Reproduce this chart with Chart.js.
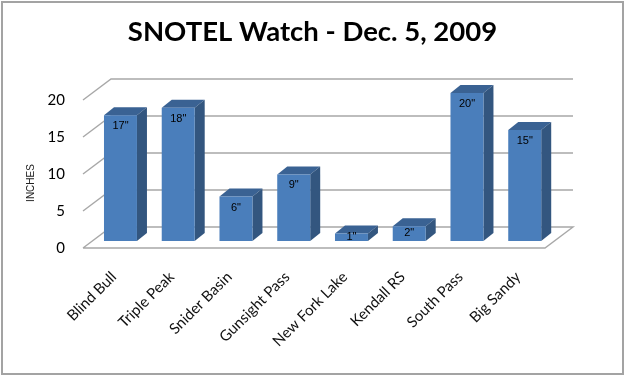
<!DOCTYPE html>
<html><head><meta charset="utf-8">
<style>html,body{margin:0;padding:0;background:#fff}#w{width:625px;height:376px;position:relative}</style>
<script src="https://cdn.jsdelivr.net/npm/chart.js@4"></script>
</head><body><div id="w"><canvas id="c" width="625" height="376"></canvas></div>
<script>
const categories=["Blind Bull","Triple Peak","Snider Basin","Gunsight Pass","New Fork Lake","Kendall RS","South Pass","Big Sandy"];
const inches=[17,18,6,9,1,2,20,15];
const tickStep=5;
const chartTitle="SNOTEL Watch - Dec. 5, 2009";
const axisTitle="INCHES";

const BAR_SHIFT={x:8.6,y:-7};
const DEPTH={x:10,y:-8};
const WALL={x:28,y:-21};
const GRID='#a8a8a8';

const scene={
  id:'scene',
  beforeDraw(ch){
    const c=ch.ctx,{left,right}=ch.chartArea,y=ch.scales.y;
    c.save();
    c.fillStyle='#fff';c.fillRect(0,0,ch.width,ch.height);
    c.strokeStyle='#a3a3a3';c.lineWidth=2;c.strokeRect(2,2,ch.width-4,ch.height-4);
    c.strokeStyle=GRID;c.lineWidth=1.4;
    y.ticks.forEach(t=>{
      const py=y.getPixelForValue(t.value);
      c.beginPath();
      c.moveTo(left,py);c.lineTo(left+WALL.x,py+WALL.y);c.lineTo(right+WALL.x,py+WALL.y);
      if(t.value===0){c.lineTo(right,py);c.lineTo(left,py);}
      c.stroke();
    });
    c.restore();
  },
  beforeDatasetsDraw(ch){
    const c=ch.ctx;
    c.save();
    c.translate(BAR_SHIFT.x,BAR_SHIFT.y);
    ch.getDatasetMeta(0).data.forEach(b=>{
      const l=b.x-b.width/2,r=b.x+b.width/2,t=b.y,base=b.base;
      c.fillStyle='#3a6293';
      c.beginPath();c.moveTo(l,t);c.lineTo(l+DEPTH.x,t+DEPTH.y);c.lineTo(r+DEPTH.x,t+DEPTH.y);c.lineTo(r,t);c.closePath();c.fill();
      c.fillStyle='#33567f';
      c.beginPath();c.moveTo(r,t);c.lineTo(r+DEPTH.x,t+DEPTH.y);c.lineTo(r+DEPTH.x,base+DEPTH.y);c.lineTo(r,base);c.closePath();c.fill();
    });
  },
  afterDatasetsDraw(ch){
    const c=ch.ctx;
    c.fillStyle='#000';c.font='11px "Liberation Sans"';c.textAlign='center';c.textBaseline='middle';
    ch.getDatasetMeta(0).data.forEach((b,i)=>{
      const h=b.base-b.y;
      c.fillText(inches[i]+'"',b.x,b.y+Math.min(11,h*0.45));
    });
    c.restore();
  },
  afterDraw(ch){
    const c=ch.ctx;
    c.save();
    c.translate(31,183);c.rotate(-Math.PI/2);
    c.fillStyle='#222';c.font='10px "Liberation Sans"';c.textAlign='center';c.textBaseline='middle';
    c.fillText(axisTitle,0,0);
    c.restore();
  }
};

new Chart(document.getElementById('c'),{
  type:'bar',
  data:{labels:categories,datasets:[{data:inches,backgroundColor:'#4a7ebb',borderWidth:0,barPercentage:0.571,categoryPercentage:1}]},
  plugins:[scene],
  options:{
    responsive:false,animation:false,
    layout:{padding:0},
    plugins:{
      legend:{display:false},tooltip:{enabled:false},
      title:{display:true,text:chartTitle,color:'#000',font:{family:'Lato',size:27.5,weight:'bold'},padding:{top:16,bottom:51}}
    },
    scales:{
      x:{
        grid:{display:false},border:{display:false},
        afterFit(s){s.height=128;},
        ticks:{color:'#111',font:{family:'Lato',size:15},minRotation:45,maxRotation:45,padding:12,labelOffset:2,autoSkip:false}
      },
      y:{
        min:0,max:20,
        afterFit(s){s.width=83;},
        grid:{display:false},border:{display:false},
        ticks:{stepSize:tickStep,color:'#000',font:{family:'Lato',size:15},padding:10}
      },
      yRight:{
        axis:'y',position:'right',min:0,max:20,
        afterFit(s){s.width=80;},
        grid:{display:false},border:{display:false},
        ticks:{display:false}
      }
    }
  }
});
</script></body></html>
